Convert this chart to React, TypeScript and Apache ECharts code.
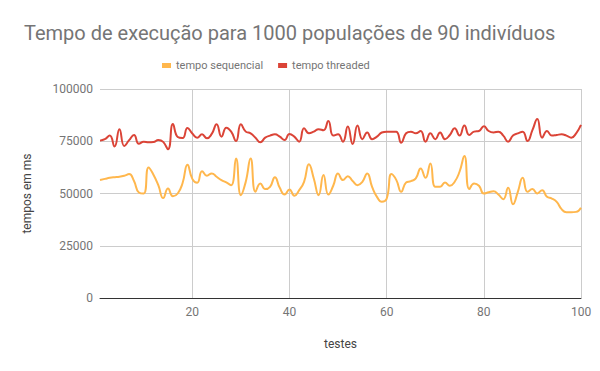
import React, { useEffect, useRef } from "react";
import * as echarts from "echarts";

const title = "Tempo de execução para 1000 populações de 90 indivíduos";
const seriesNames = ["tempo sequencial", "tempo threaded"];
const xLabelTicks = [20, 40, 60, 80, 100];
const yTicks = { min: 0, max: 100000, interval: 25000 };

const tests: number[] = Array.from({ length: 100 }, (_, i) => i + 1);

const sequencial: number[] = [
  56500, 57000, 57500, 57800, 58000, 58500, 59300, 56000, 50500, 50000,
  62500, 59000, 54000, 47800, 52400, 48700, 50000, 55000, 63800, 57000,
  55100, 60700, 58500, 59600, 58000, 56400, 55300, 54000, 66800, 49200,
  55600, 66800, 50800, 54800, 52100, 53200, 57800, 52700, 49500, 51900,
  48900, 51600, 55600, 64000, 57200, 49200, 58800, 49500, 53700, 59600,
  56400, 58300, 56000, 54000, 55600, 59600, 53200, 48400, 46000, 47500,
  59300, 56400, 50800, 55300, 55900, 57200, 62000, 57500, 64400, 53200,
  53200, 55300, 53700, 55600, 60400, 67900, 52100, 54800, 53700, 50000,
  50600, 51100, 49500, 47300, 52700, 44800, 50800, 57500, 50800, 52100,
  50000, 51600, 48400, 47600, 46000, 42500, 41000, 41000, 41200, 43200,
];

const threaded: number[] = [
  75300, 76000, 77700, 72500, 80800, 72700, 75500, 78000, 73800, 74800,
  74500, 74600, 75600, 74700, 71200, 83200, 77000, 76500, 81300, 78700,
  76700, 78300, 76400, 78500, 83100, 77200, 81500, 79600, 75100, 83100,
  79600, 78800, 76700, 74500, 76700, 77700, 78300, 77200, 75600, 78500,
  77200, 74800, 81200, 78800, 79600, 80800, 80300, 84700, 77700, 78300,
  74800, 82000, 73700, 82500, 76000, 79200, 76000, 77200, 79200, 79600,
  79600, 79500, 74300, 78800, 79600, 78800, 79900, 74800, 78800, 76000,
  79200, 76000, 78000, 81200, 77700, 82500, 78000, 79600, 79900, 82200,
  79900, 79200, 79600, 77700, 74800, 77700, 78800, 79600, 75100, 80300,
  85600, 76700, 79900, 77700, 78000, 78300, 77700, 76700, 78800, 82800,
];

const colors = ["#ffb74d", "#db4437"];
const FONT = "Roboto";

export default function App() {
  const ref = useRef<HTMLDivElement>(null);
  useEffect(() => {
    if (!ref.current) return;
    const chart = echarts.init(ref.current, null, { renderer: "svg" });
    const showTick = (_idx: number, value: any) =>
      xLabelTicks.includes(Number(value));
    chart.setOption({
      animation: false,
      backgroundColor: "#ffffff",
      color: colors,
      textStyle: { fontFamily: FONT },
      title: {
        text: title,
        left: 19,
        top: 18,
        textStyle: {
          fontFamily: FONT,
          fontSize: 20,
          fontWeight: "normal",
          color: "#757575",
        },
      },
      legend: {
        left: 157,
        top: 55,
        icon: "rect",
        itemWidth: 9,
        itemHeight: 5,
        itemGap: 15,
        textStyle: {
          fontFamily: FONT,
          fontSize: 11,
          color: "#757575",
        },
        data: seriesNames,
      },
      grid: { left: 100, right: 19, top: 89, bottom: 73 },
      xAxis: {
        type: "category",
        data: tests.map(String),
        boundaryGap: false,
        name: "testes",
        nameLocation: "middle",
        nameGap: 40,
        nameTextStyle: { fontFamily: FONT, fontSize: 12, color: "#444" },
        axisLine: { show: true, lineStyle: { color: "#333333", width: 1 } },
        axisTick: { show: false },
        axisLabel: {
          interval: showTick,
          margin: 8,
          fontFamily: FONT,
          fontSize: 12,
          color: "#757575",
        },
        splitLine: {
          show: true,
          interval: showTick,
          lineStyle: { color: "#cccccc", width: 1 },
        },
      },
      yAxis: {
        type: "value",
        min: yTicks.min,
        max: yTicks.max,
        interval: yTicks.interval,
        name: "tempos em ms",
        nameLocation: "middle",
        nameGap: 67,
        nameTextStyle: { fontFamily: FONT, fontSize: 12, color: "#444" },
        axisLine: { show: false },
        axisTick: { show: false },
        axisLabel: {
          margin: 7,
          fontFamily: FONT,
          fontSize: 12,
          color: "#757575",
          formatter: (v: number) => String(v),
        },
        splitLine: { show: true, lineStyle: { color: "#cccccc", width: 1 } },
      },
      series: [
        {
          name: seriesNames[0],
          type: "line",
          data: sequencial,
          smooth: 0.5,
          showSymbol: false,
          symbol: "none",
          lineStyle: { width: 2, color: colors[0] },
          itemStyle: { color: colors[0] },
        },
        {
          name: seriesNames[1],
          type: "line",
          data: threaded,
          smooth: 0.5,
          showSymbol: false,
          symbol: "none",
          lineStyle: { width: 2, color: colors[1] },
          itemStyle: { color: colors[1] },
        },
      ],
    });
    return () => chart.dispose();
  }, []);
  return (
    <div
      ref={ref}
      style={{ position: "fixed", left: 0, top: 0, width: 600, height: 371 }}
    />
  );
}
